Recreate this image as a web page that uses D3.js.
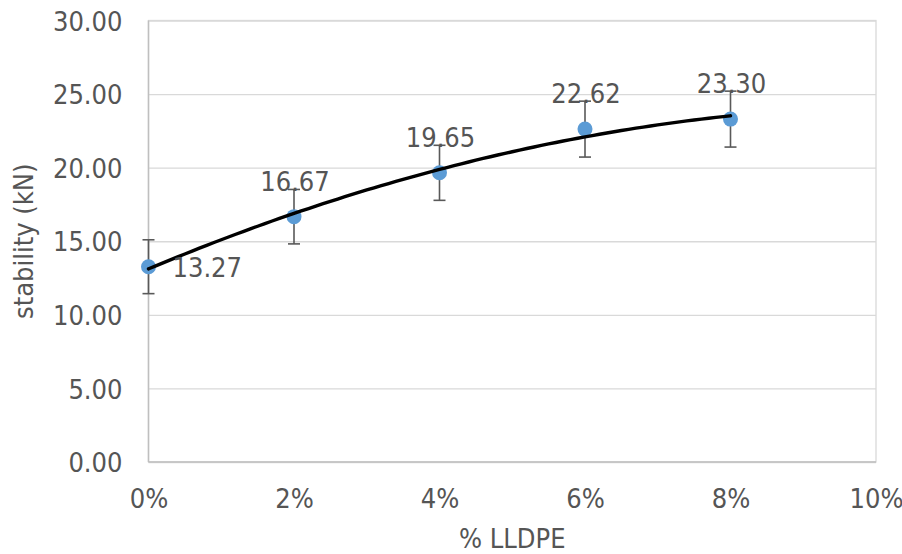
<!DOCTYPE html>
<html>
<head>
<meta charset="utf-8">
<script src="https://cdn.jsdelivr.net/npm/d3@7/dist/d3.min.js"></script>
<style>
  html, body { margin: 0; padding: 0; background: #fff; }
  svg { display: block; }
  text { font-family: "DejaVu Sans Condensed", "DejaVu Sans", sans-serif; fill: #555555; }
</style>
</head>
<body>
<svg id="chart" width="902" height="554"></svg>
<script>
// LLDPE content (fraction) and measured stability (kN)
const lldpe = [0, 0.02, 0.04, 0.06, 0.08];
const stability = [13.27, 16.67, 19.65, 22.62, 23.30];
const stabilityError = [1.83, 1.85, 1.87, 1.9, 1.9];
const xTicks = [0, 0.02, 0.04, 0.06, 0.08, 0.10];
const yTicks = [0, 5, 10, 15, 20, 25, 30];

const svg = d3.select("#chart");
const plot = { left: 148.5, right: 876, top: 20.5, bottom: 462 };

const x = d3.scaleLinear().domain([0, 0.10]).range([plot.left, plot.right]);
const y = d3.scaleLinear().domain([0, 30]).range([plot.bottom, plot.top]);

// Horizontal gridlines
svg.append("g")
  .attr("transform", `translate(${plot.left},0)`)
  .call(d3.axisLeft(y).tickValues(yTicks).tickSize(-(plot.right - plot.left)).tickFormat(""))
  .call(g => g.select(".domain").remove())
  .call(g => g.selectAll(".tick line").attr("stroke", "#d9d9d9").attr("stroke-width", 1.3));

// Plot-area frame
svg.append("rect")
  .attr("x", plot.left).attr("y", plot.top)
  .attr("width", plot.right - plot.left).attr("height", plot.bottom - plot.top)
  .attr("fill", "none").attr("stroke", "#d9d9d9").attr("stroke-width", 1.3);

// Axis lines
svg.append("line").attr("x1", plot.left).attr("x2", plot.left).attr("y1", plot.top).attr("y2", plot.bottom)
  .attr("stroke", "#bfbfbf").attr("stroke-width", 1.5);
svg.append("line").attr("x1", plot.left).attr("x2", plot.right).attr("y1", plot.bottom).attr("y2", plot.bottom)
  .attr("stroke", "#bfbfbf").attr("stroke-width", 1.5);

// Y tick labels
svg.append("g")
  .attr("transform", `translate(${plot.left - 26},0)`)
  .call(d3.axisLeft(y).tickValues(yTicks).tickSize(0).tickPadding(0).tickFormat(d3.format(".2f")))
  .call(g => g.select(".domain").remove())
  .call(g => g.selectAll("text")
    .attr("font-family", "DejaVu Sans Condensed, DejaVu Sans, sans-serif")
    .attr("font-size", 27).attr("fill", "#555555").attr("dy", "0.36em"));

// X tick labels
svg.append("g")
  .attr("transform", `translate(0,${plot.bottom})`)
  .call(d3.axisBottom(x).tickValues(xTicks).tickSize(0).tickPadding(0).tickFormat(d3.format(".0%")))
  .call(g => g.select(".domain").remove())
  .call(g => g.selectAll("text")
    .attr("font-family", "DejaVu Sans Condensed, DejaVu Sans, sans-serif")
    .attr("font-size", 27).attr("fill", "#555555").attr("dy", null).attr("y", 46));

// Axis titles
svg.append("text")
  .attr("x", (plot.left + plot.right) / 2).attr("y", 548)
  .attr("text-anchor", "middle").attr("font-size", 27)
  .text("% LLDPE");
svg.append("text")
  .attr("transform", `translate(33,${(plot.top + plot.bottom) / 2}) rotate(-90)`)
  .attr("text-anchor", "middle").attr("font-size", 27)
  .text("stability (kN)");

const data = lldpe.map((v, i) => ({ x: v, y: stability[i], e: stabilityError[i] }));

// Error bars
const eb = svg.append("g").attr("stroke", "#595959").attr("stroke-width", 1.6).attr("fill", "none");
data.forEach(d => {
  const cx = x(d.x), y0 = y(d.y - d.e), y1 = y(d.y + d.e);
  eb.append("line").attr("x1", cx).attr("x2", cx).attr("y1", y0).attr("y2", y1);
  eb.append("line").attr("x1", cx - 6).attr("x2", cx + 6).attr("y1", y0).attr("y2", y0);
  eb.append("line").attr("x1", cx - 6).attr("x2", cx + 6).attr("y1", y1).attr("y2", y1);
});

// Markers
svg.append("g").selectAll("circle").data(data).join("circle")
  .attr("cx", d => x(d.x)).attr("cy", d => y(d.y)).attr("r", 7.5)
  .attr("fill", "#5b9bd5");

// Second-order polynomial trendline (least squares)
function polyFit2(xs, ys) {
  let s = [0, 0, 0, 0, 0], t = [0, 0, 0];
  xs.forEach((xv, i) => {
    for (let k = 0; k <= 4; k++) s[k] += Math.pow(xv, k);
    for (let k = 0; k <= 2; k++) t[k] += Math.pow(xv, k) * ys[i];
  });
  const A = [[s[0], s[1], s[2]], [s[1], s[2], s[3]], [s[2], s[3], s[4]]];
  const det = m => m[0][0] * (m[1][1] * m[2][2] - m[1][2] * m[2][1])
                 - m[0][1] * (m[1][0] * m[2][2] - m[1][2] * m[2][0])
                 + m[0][2] * (m[1][0] * m[2][1] - m[1][1] * m[2][0]);
  const D = det(A);
  return [0, 1, 2].map(c => det(A.map((row, r) => row.map((v, j) => j === c ? t[r] : v))) / D);
}
const coef = polyFit2(lldpe.map(v => v * 100), stability);
const trend = d3.range(0, 8.0001, 0.1).map(p => ({ x: p / 100, y: coef[0] + coef[1] * p + coef[2] * p * p }));
svg.append("path").datum(trend)
  .attr("d", d3.line().x(d => x(d.x)).y(d => y(d.y)).curve(d3.curveMonotoneX))
  .attr("fill", "none").attr("stroke", "#000").attr("stroke-width", 3.4)
  .attr("stroke-linecap", "round");

// Data labels
svg.append("g").selectAll("text").data(data).join("text")
  .attr("font-size", 27)
  .attr("text-anchor", (d, i) => i === 0 ? "start" : "middle")
  .attr("x", (d, i) => i === 0 ? x(d.x) + 24 : x(d.x) + 1)
  .attr("y", (d, i) => i === 0 ? y(d.y) + 10 : y(d.y) - 26)
  .text(d => d.y.toFixed(2));
</script>
</body>
</html>
